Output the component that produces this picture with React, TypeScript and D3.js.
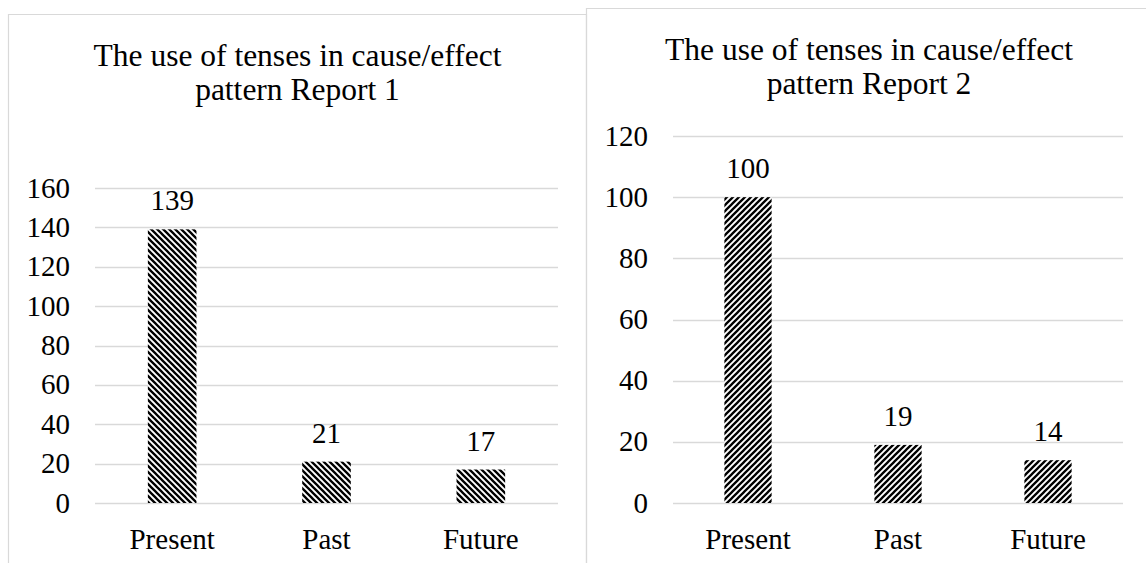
import React from "react";
import * as d3 from "d3";

// chart data
const categories = ["Present", "Past", "Future"];
const report1Values = [139, 21, 17];
const report2Values = [100, 19, 14];
const report1Ticks = [0, 20, 40, 60, 80, 100, 120, 140, 160];
const report2Ticks = [0, 20, 40, 60, 80, 100, 120];
const titleLines1 = ["The use of tenses in cause/effect", "pattern Report 1"];
const titleLines2 = ["The use of tenses in cause/effect", "pattern Report 2"];

const WIDTH = 1146;
const HEIGHT = 563;
const FONT = "'Liberation Serif', 'Times New Roman', serif";
const GRID = "#d9d9d9";

interface PanelProps {
  left: number;
  right: number;
  top: number;
  plotX0: number;
  plotX1: number;
  plotY0: number;
  plotY1: number;
  values: number[];
  ticks: number[];
  title: string[];
  titleX: number;
  titleY: number;
  pattern: string;
}

function Panel(p: PanelProps) {
  const x = d3.scaleBand<string>().domain(categories).range([p.plotX0, p.plotX1]);
  const y = d3
    .scaleLinear()
    .domain([0, p.ticks[p.ticks.length - 1]])
    .range([p.plotY0, p.plotY1]);
  const barW = x.step() * 0.315;
  const textStyle = { fontFamily: FONT, fontSize: 29, fill: "#000" };

  return (
    <g>
      {/* panel border */}
      <path
        d={`M${p.left},${HEIGHT + 2} V${p.top} H${p.right} V${HEIGHT + 2}`}
        fill="none"
        stroke={GRID}
        strokeWidth={1.2}
      />

      {/* title */}
      {p.title.map((line, i) => (
        <text
          key={line}
          x={p.titleX}
          y={p.titleY + i * 34}
          textAnchor="middle"
          style={{ ...textStyle, fontSize: 31.5 }}
        >
          {line}
        </text>
      ))}

      {/* gridlines */}
      {p.ticks.map((t) => (
        <line
          key={"g" + t}
          x1={p.plotX0}
          x2={p.plotX1}
          y1={Math.round(y(t)) + 0.5}
          y2={Math.round(y(t)) + 0.5}
          stroke={GRID}
          strokeWidth={1.3}
        />
      ))}

      {/* y labels */}
      {p.ticks.map((t) => (
        <text
          key={"t" + t}
          x={p.plotX0 - 25}
          y={y(t)}
          dy="0.33em"
          textAnchor="end"
          style={textStyle}
        >
          {t}
        </text>
      ))}

      {/* bars */}
      {p.values.map((v, i) => (
        <rect
          key={"b" + i}
          x={x(categories[i])! + x.bandwidth() / 2 - barW / 2}
          width={barW}
          y={y(v)}
          height={y(0) - y(v)}
          fill={p.pattern}
        />
      ))}

      {/* value labels */}
      {p.values.map((v, i) => (
        <text
          key={"v" + i}
          x={x(categories[i])! + x.bandwidth() / 2}
          y={y(v) - 19}
          textAnchor="middle"
          style={textStyle}
        >
          {v}
        </text>
      ))}

      {/* category labels */}
      {categories.map((c) => (
        <text
          key={"c" + c}
          x={x(c)! + x.bandwidth() / 2}
          y={549}
          textAnchor="middle"
          style={textStyle}
        >
          {c}
        </text>
      ))}
    </g>
  );
}

export default function App() {
  return (
    <svg
      width={WIDTH}
      height={HEIGHT}
      style={{ position: "absolute", left: 0, top: 0, display: "block" }}
    >
      <defs>
        <pattern id="hatchDown" patternUnits="userSpaceOnUse" width={6} height={6}>
          <rect width={6} height={6} fill="#fff" />
          <path d="M-1,5 L1,7 M0,0 L6,6 M5,-1 L7,1" stroke="#000" strokeWidth={2.3} />
        </pattern>
        <pattern id="hatchUp" patternUnits="userSpaceOnUse" width={6} height={6}>
          <rect width={6} height={6} fill="#fff" />
          <path d="M-1,1 L1,-1 M0,6 L6,0 M5,7 L7,5" stroke="#000" strokeWidth={2.3} />
        </pattern>
      </defs>
      <rect width={WIDTH} height={HEIGHT} fill="#fff" />
      <Panel
        left={8.5}
        right={586.5}
        top={14.5}
        plotX0={95}
        plotX1={558}
        plotY0={503}
        plotY1={188}
        values={report1Values}
        ticks={report1Ticks}
        title={titleLines1}
        titleX={297.5}
        titleY={66}
        pattern="url(#hatchDown)"
      />
      <Panel
        left={586.5}
        right={1150}
        top={8.5}
        plotX0={673}
        plotX1={1123}
        plotY0={503}
        plotY1={136}
        values={report2Values}
        ticks={report2Ticks}
        title={titleLines2}
        titleX={869}
        titleY={60}
        pattern="url(#hatchUp)"
      />
    </svg>
  );
}
